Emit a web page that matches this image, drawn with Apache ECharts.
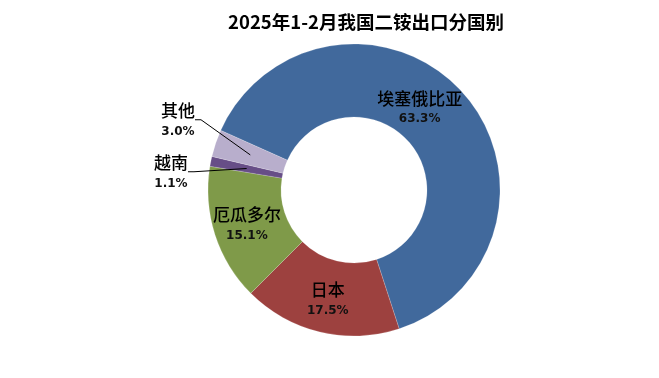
<!DOCTYPE html>
<html>
<head>
<meta charset="utf-8">
<script src="https://cdn.jsdelivr.net/npm/echarts@6/dist/echarts.min.js"></script>
<style>
  html, body { margin: 0; padding: 0; background: #fff; }
  #chart { width: 659px; height: 378px; }
</style>
</head>
<body>
<div id="chart"></div>
<script>
// Export share by destination, Jan-Feb 2025 (percent)
const countries = ['埃塞俄比亚', '日本', '厄瓜多尔', '越南', '其他'];
const shares = [63.3, 17.5, 15.1, 1.1, 3.0];
const colors = ['#41699c', '#9d413f', '#7f9a49', '#674e87', '#b8aecc'];

// the two thin slices get their labels outside with a leader line
const outsideIdx = [3, 4];

const chart = echarts.init(document.getElementById('chart'));

const labelRich = {
  name: { fontFamily: 'Noto Sans CJK SC', fontSize: 17, fontWeight: 500, color: '#000', lineHeight: 23 },
  pct: { fontFamily: 'DejaVu Sans', fontWeight: 'bold', fontSize: 12, color: '#111', lineHeight: 19 }
};
const fmt = (p) => '{name|' + p.name + '}\n{pct|' + p.value.toFixed(1) + '%}';

const ringData = countries.map((c, i) => ({
  name: c,
  value: shares[i],
  itemStyle: { color: colors[i] },
  label: { show: !outsideIdx.includes(i) }
}));

// invisible pie under the ring, used only to anchor the leader lines mid-ring
const guideData = countries.map((c, i) => ({
  name: c,
  value: shares[i],
  label: { show: outsideIdx.includes(i) },
  labelLine: { show: outsideIdx.includes(i) }
}));

const option = {
  backgroundColor: '#fff',
  animation: false,
  title: {
    text: '2025年1-2月我国二铵出口分国别',
    left: 361,
    top: 8,
    textAlign: 'center',
    textStyle: { fontFamily: 'Noto Sans CJK SC', fontSize: 18.5, fontWeight: 'bold', color: '#000' }
  },
  series: [
    {
      type: 'pie',
      center: [354, 190],
      radius: [73, 146],
      startAngle: 155.9,
      clockwise: true,
      avoidLabelOverlap: false,
      data: ringData,
      itemStyle: { borderColor: 'rgba(255,255,255,0.35)', borderWidth: 0.5 },
      label: { position: 'inside', formatter: fmt, rich: labelRich, align: 'center' },
      labelLine: { show: false },
      labelLayout: (p) => (p.dataIndex === 0 ? { dx: -18, dy: -7 } : {}),
      emphasis: { disabled: true }
    },
    {
      type: 'pie',
      center: [354, 190],
      radius: [0, 109.5],
      startAngle: 155.9,
      clockwise: true,
      silent: true,
      avoidLabelOverlap: false,
      z: 3,
      data: guideData,
      itemStyle: { color: 'rgba(0,0,0,0)' },
      label: { position: 'outside', alignTo: 'none', formatter: fmt, rich: labelRich, align: 'center' },
      labelLine: { length: 10, length2: 6, lineStyle: { color: '#000', width: 1 } },
      labelLayout: (p) => {
        if (p.dataIndex === 4) return { x: 178, y: 120, align: 'center', verticalAlign: 'middle' };
        if (p.dataIndex === 3) return { x: 171, y: 172, align: 'center', verticalAlign: 'middle' };
        return {};
      },
      emphasis: { disabled: true }
    }
  ]
};

chart.setOption(option);
</script>
</body>
</html>
